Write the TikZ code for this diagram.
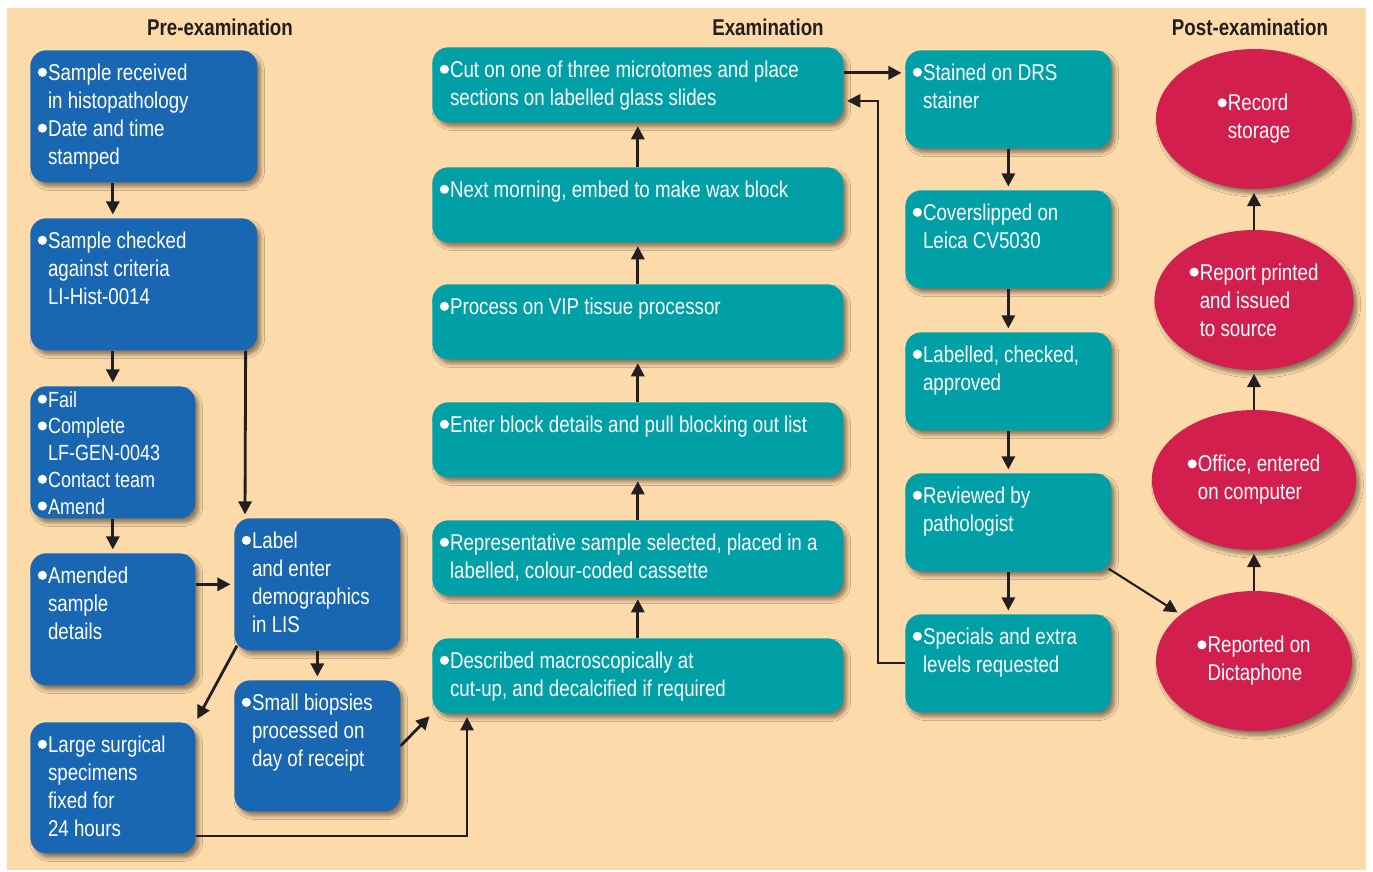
\documentclass[tikz,border=0pt]{standalone}
\usepackage{fontspec}
\setmainfont[FakeStretch=0.82]{Liberation Sans}
\usepackage{tikz}
\usetikzlibrary{arrows.meta,shapes.geometric,calc,shadows.blur}

\definecolor{peach}{RGB}{253,218,170}
\definecolor{preblue}{RGB}{25,103,178}
\definecolor{exteal}{RGB}{0,160,166}
\definecolor{postred}{RGB}{210,31,78}
\definecolor{ink}{RGB}{35,31,32}

\newcommand\itm{\tikz[baseline={(0,-4.6pt)}]\fill[white] (0,0) circle (2.6pt);\hspace{0.6pt}}
\newcommand\hng{\hphantom{\itm}}

\tikzset{
  shd/.style={blur shadow={shadow xshift=2pt,shadow yshift=-2.5pt,shadow opacity=45,shadow blur steps=6}},
  base/.style={shd,rounded corners=9pt,anchor=north west,inner sep=0pt},
  prebox/.style={base,fill=preblue},
  exbox/.style={base,fill=exteal},
  txt/.style={anchor=north west,text=white,align=left,inner xsep=0.15cm,inner ysep=0.27cm,
    font=\fontsize{13}{15.9}\selectfont},
  postoval/.style={shd,ellipse,fill=postred,minimum width=3.92cm,minimum height=2.8cm,
    text=white,align=left,font=\fontsize{13}{15.9}\selectfont},
  arr/.style={-{Triangle[length=7.5pt,width=7.5pt]},line width=1.6pt,draw=ink,shorten >=2pt},
  head/.style={text=ink,font=\fontsize{13}{15.9}\selectfont\bfseries}
}

\begin{document}
\begin{tikzpicture}[x=0.02cm,y=-0.02cm]
\useasboundingbox (0,0) rectangle (1373,872);
\fill[peach] (7,8) rectangle (1366,870);

\node[head] (hpre) at (220,27) {Pre-examination};
\node[head] (hex) at (768,27) {Examination};
\node[head] (hpost) at (1250,27) {Post-examination};

%% pre-examination
\node[prebox,minimum width=4.54cm,minimum height=2.64cm,
  label={[txt]north west:{\itm Sample received\\\hng in histopathology\\\itm Date and time\\\hng stamped}}] (a1) at (30,50) {};
\node[prebox,minimum width=4.54cm,minimum height=2.64cm,
  label={[txt]north west:{\itm Sample checked\\\hng against criteria\\\hng LI-Hist-0014}}] (a2) at (30,218) {};
\node[prebox,minimum width=3.3cm,minimum height=2.64cm,
  label={[txt,inner ysep=0.1cm,font=\fontsize{12.5}{15.2}\selectfont]north west:{\itm Fail\\\itm Complete\\\hng LF-GEN-0043\\\itm Contact team\\\itm Amend}}] (a3) at (30,386) {};
\node[prebox,minimum width=3.3cm,minimum height=2.64cm,
  label={[txt]north west:{\itm Amended\\\hng sample\\\hng details}}] (a4) at (30,553) {};
\node[prebox,minimum width=3.3cm,minimum height=2.62cm,
  label={[txt]north west:{\itm Large surgical\\\hng specimens\\\hng fixed for\\\hng 24 hours}}] (a5) at (30,722) {};
\node[prebox,minimum width=3.32cm,minimum height=2.64cm,
  label={[txt]north west:{\itm Label\\\hng and enter\\\hng demographics\\\hng in LIS}}] (b1) at (234,518) {};
\node[prebox,minimum width=3.32cm,minimum height=2.62cm,
  label={[txt]north west:{\itm Small biopsies\\\hng processed on\\\hng day of receipt}}] (b2) at (234,680) {};

%% examination
\node[exbox,minimum width=8.22cm,minimum height=1.5cm,
  label={[txt]north west:{\itm Cut on one of three microtomes and place\\\hng sections on labelled glass slides}}] (e1) at (432,47) {};
\node[exbox,minimum width=8.22cm,minimum height=1.5cm,
  label={[txt]north west:{\itm Next morning, embed to make wax block}}] (e2) at (432,167) {};
\node[exbox,minimum width=8.22cm,minimum height=1.5cm,
  label={[txt]north west:{\itm Process on VIP tissue processor}}] (e3) at (432,284) {};
\node[exbox,minimum width=8.22cm,minimum height=1.5cm,
  label={[txt]north west:{\itm Enter block details and pull blocking out list}}] (e4) at (432,402) {};
\node[exbox,minimum width=8.22cm,minimum height=1.5cm,
  label={[txt]north west:{\itm Representative sample selected, placed in a\\\hng labelled, colour-coded cassette}}] (e5) at (432,520) {};
\node[exbox,minimum width=8.22cm,minimum height=1.5cm,
  label={[txt]north west:{\itm Described macroscopically at\\\hng cut-up, and decalcified if required}}] (e6) at (432,638) {};

\node[exbox,minimum width=4.12cm,minimum height=1.96cm,
  label={[txt]north west:{\itm Stained on DRS\\\hng stainer}}] (s1) at (905,50) {};
\node[exbox,minimum width=4.12cm,minimum height=1.96cm,
  label={[txt]north west:{\itm Coverslipped on\\\hng Leica CV5030}}] (s2) at (905,190) {};
\node[exbox,minimum width=4.12cm,minimum height=1.96cm,
  label={[txt]north west:{\itm Labelled, checked,\\\hng approved}}] (s3) at (905,332) {};
\node[exbox,minimum width=4.12cm,minimum height=1.96cm,
  label={[txt]north west:{\itm Reviewed by\\\hng pathologist}}] (s4) at (905,473) {};
\node[exbox,minimum width=4.12cm,minimum height=1.96cm,
  label={[txt]north west:{\itm Specials and extra\\\hng levels requested}}] (s5) at (905,614) {};

%% post-examination
\node[postoval] (r1) at (1254,119) {\itm Record\\\hng storage};
\node[postoval] (r2) at (1254,300) {\itm Report printed\\\hng and issued\\\hng to source};
\node[postoval] (r3) at (1254,480) {\itm Office, entered\\\hng on computer};
\node[postoval] (r4) at (1254,661) {\itm Reported on\\\hng Dictaphone};

%% arrows
\draw[arr] (a1.south -| a3.north) -- (a2.north -| a3.north);
\draw[arr] (a2.south -| a3.north) -- (a3.north);
\draw[arr] ($(a2.south east)+(-12,0)$) -- ($(b1.north west)+(11,0)$);
\draw[arr] (a3.south) -- (a4.north);
\draw[arr] (a4.east |- b1.west) -- (b1.west);
\draw[arr] ($(b1.south west)+(3,-5)$) -- (a5.north east);
\draw[arr] (b1.south) -- (b2.north);
\draw[arr] (b2.east) -- (e6.south west);
\draw[arr,line width=1.2pt] ($(a5.south east)+(0,-18)$) -| ($(e6.south west)+(35,0)$);
\foreach \lo/\hi in {e6/e5,e5/e4,e4/e3,e3/e2,e2/e1}
  \draw[arr] (\lo.north) -- (\hi.south);
\draw[arr] ([yshift=0.24cm]e1.east) -- ([yshift=0.24cm]e1.east -| s1.west);
\draw[arr,line width=1.2pt] (s5.west) -- ++(-27,0) |- ([yshift=-0.32cm]e1.east);
\foreach \hi/\lo in {s1/s2,s2/s3,s3/s4,s4/s5}
  \draw[arr] (\hi.south) -- (\lo.north);
\draw[arr,line width=1.2pt] ($(s4.south east)+(-3,-3)$) -- (r4);
\foreach \lo/\hi in {r4/r3,r3/r2,r2/r1}
  \draw[arr] (\lo.north) -- (\hi.south);
\end{tikzpicture}
\end{document}
